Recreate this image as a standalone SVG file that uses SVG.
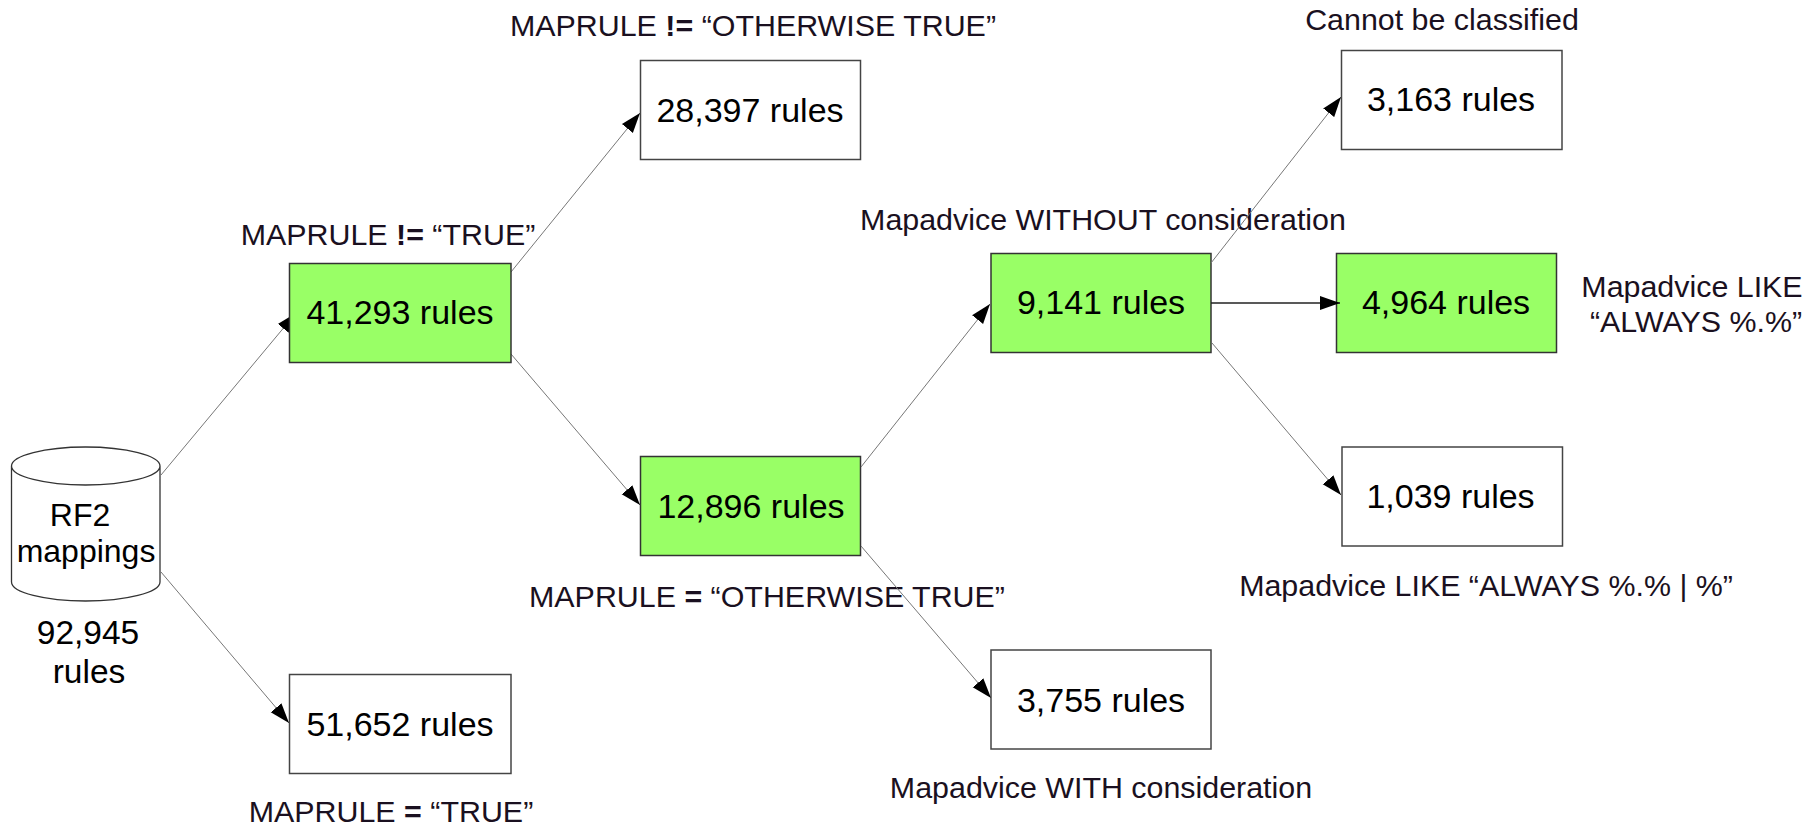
<svg xmlns="http://www.w3.org/2000/svg" width="1819" height="826" viewBox="0 0 1819 826">
<style>
text{font-family:"Liberation Sans",Arial,sans-serif;text-anchor:middle}
.n{font-size:34px;fill:#000}
.s{font-size:33.500px;fill:#000}
.l{font-size:30.400px;fill:#1a1020}
.b{fill:#fff;stroke:#444;stroke-width:1.500}
.g{fill:#99ff66;stroke:#333;stroke-width:1.500}
.c{stroke:#777;stroke-width:1;fill:none;marker-end:url(#a)}
.d{stroke:#222;stroke-width:1.400;fill:none;marker-end:url(#a)}
</style>
<defs><marker id="a" markerUnits="userSpaceOnUse" markerWidth="22" markerHeight="16" refX="20" refY="8" orient="auto"><path d="M0 1L20 8L0 15Z" fill="#000"/></marker></defs>
<rect width="1819" height="826" fill="#fff"/>
<g id="rf2"><path d="M11.500 466C11.500 455.500 45 447 85.500 447S160 455.500 160 466V582C160 592.500 126 601 85.500 601S11.500 592.500 11.500 582ZM11.500 466C11.500 476.500 45 485 85.500 485S160 476.500 160 466" fill="#fff" stroke="#333" stroke-width="1.300"/>
<text class="n" x="80" y="526" style="font-size:32px">RF2</text><text class="n" x="86" y="562" style="font-size:32px">mappings</text></g>
<g id="total"><text class="s" x="88" y="644">92,945</text><text class="s" x="89" y="683">rules</text></g>
<g id="n51652"><rect class="b" x="289.500" y="674.500" width="221.500" height="99"/><text class="n" x="400" y="736">51,652 rules</text><text class="l" x="391" y="822">MAPRULE <tspan font-weight="bold">=</tspan> “TRUE”</text></g>
<g id="n28397"><rect class="b" x="640.500" y="60.500" width="220" height="99"/><text class="n" x="750" y="122">28,397 rules</text><text class="l" x="753" y="36">MAPRULE <tspan font-weight="bold">!=</tspan> “OTHERWISE TRUE”</text></g>
<g id="n12896"><rect class="g" x="640.500" y="456.500" width="220" height="99"/><text class="n" x="751" y="517.500">12,896 rules</text><text class="l" x="767" y="607">MAPRULE <tspan font-weight="bold">=</tspan> “OTHERWISE TRUE”</text></g>
<g id="n3755"><rect class="b" x="991" y="650" width="220" height="99"/><text class="n" x="1101" y="711.500">3,755 rules</text><text class="l" x="1101" y="798">Mapadvice WITH consideration</text></g>
<g id="n9141"><rect class="g" x="991" y="253.500" width="220" height="99"/><text class="n" x="1101" y="314">9,141 rules</text><text class="l" x="1103" y="229.500">Mapadvice WITHOUT consideration</text></g>
<g id="n4964"><rect class="g" x="1336.500" y="253.500" width="220" height="99"/><text class="n" x="1446" y="314">4,964 rules</text><text class="l" x="1692" y="297">Mapadvice LIKE</text><text class="l" x="1696" y="332">“ALWAYS %.%”</text></g>
<g id="n3163"><rect class="b" x="1341.500" y="50.500" width="220.500" height="99"/><text class="n" x="1451" y="111">3,163 rules</text><text class="l" x="1442" y="30">Cannot be classified</text></g>
<g id="n1039"><rect class="b" x="1342" y="447" width="220.500" height="99"/><text class="n" x="1450.500" y="507.500">1,039 rules</text><text class="l" x="1486" y="596">Mapadvice LIKE “ALWAYS %.% | %”</text></g>
<g id="connectors">
<line class="c" x1="161" y1="475" x2="296" y2="313"/>
<line class="c" x1="161" y1="572" x2="289" y2="723"/>
<line class="c" x1="511" y1="272" x2="640" y2="113"/>
<line class="c" x1="511" y1="354" x2="640" y2="505"/>
<line class="c" x1="861" y1="467" x2="990" y2="304"/>
<line class="c" x1="861" y1="546" x2="991" y2="698"/>
<line class="c" x1="1211" y1="263" x2="1341" y2="97"/>
<line class="d" x1="1211" y1="303" x2="1340" y2="303"/>
<line class="c" x1="1212" y1="343" x2="1341" y2="495"/>
</g>
<g id="n41293"><rect class="g" x="289.500" y="263.500" width="221.500" height="99"/><text class="n" x="400" y="324">41,293 rules</text><text class="l" x="388" y="245">MAPRULE <tspan font-weight="bold">!=</tspan> “TRUE”</text></g>
</svg>
